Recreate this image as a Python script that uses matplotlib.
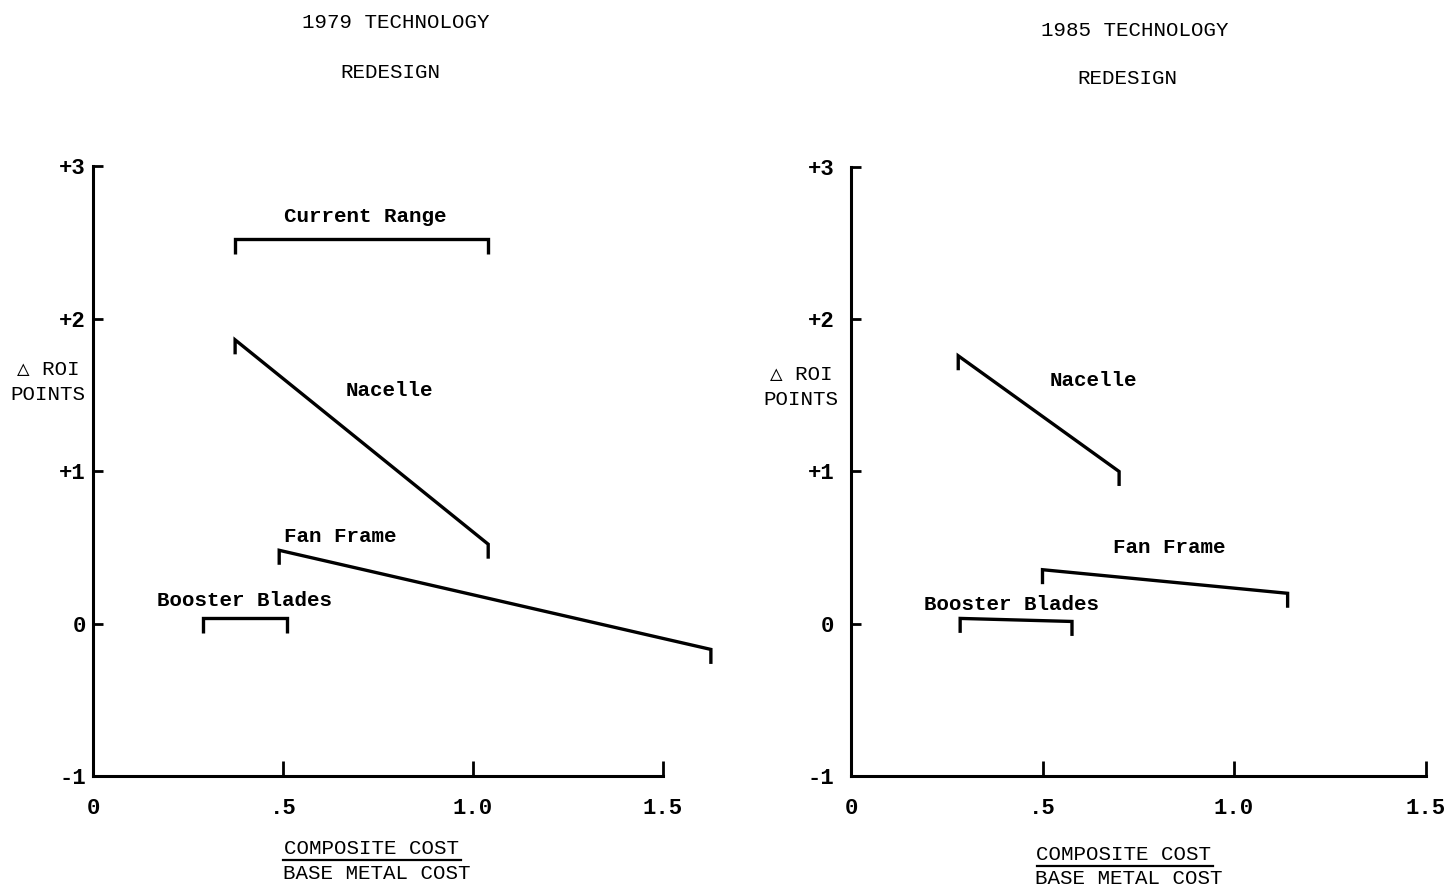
import matplotlib
matplotlib.use("Agg")
import matplotlib.pyplot as plt
from matplotlib.lines import Line2D

# ---------------- data ----------------
panel_titles = ["1979 TECHNOLOGY", "1985 TECHNOLOGY"]
panel_subtitle = "REDESIGN"
y_ticks = [-1, 0, 1, 2, 3]
y_tick_labels = ["-1", "0", "+1", "+2", "+3"]
x_ticks = [0, 0.5, 1.0, 1.5]
x_tick_labels = ["0", ".5", "1.0", "1.5"]
ylabel_text = "\u25b3 ROI\nPOINTS"
xlabel_num = "COMPOSITE COST"
xlabel_den = "BASE METAL COST"

# 1979 technology
p1_current_x = [0.374, 1.04]
p1_current_y = [2.52, 2.52]
p1_nacelle_x = [0.374, 1.04]
p1_nacelle_y = [1.86, 0.52]
p1_fanframe_x = [0.49, 1.626]
p1_fanframe_y = [0.48, -0.17]
p1_booster_x = [0.29, 0.51]
p1_booster_y = [0.035, 0.035]

# 1985 technology
p2_nacelle_x = [0.28, 0.70]
p2_nacelle_y = [1.76, 1.0]
p2_fanframe_x = [0.50, 1.14]
p2_fanframe_y = [0.355, 0.20]
p2_booster_x = [0.285, 0.577]
p2_booster_y = [0.035, 0.015]

W, H = 1455, 888
fig = plt.figure(figsize=(W / 100, H / 100), dpi=100)
fig.patch.set_facecolor("white")

FONT = ["Liberation Mono", "DejaVu Sans Mono"]
FS = 15
TFS = 16
TICK_DROP = 0.095
LW = 2.4


def px(x, y):
    return x / W, 1 - y / H


def axes_rect(x0, y_top, x_right, y_bot):
    return [x0 / W, 1 - y_bot / H, (x_right - x0) / W, (y_bot - y_top) / H]


def bracket_line(ax, xs, ys):
    ax.plot([xs[0], xs[0], xs[1], xs[1]],
            [ys[0] - TICK_DROP, ys[0], ys[1], ys[1] - TICK_DROP],
            color="black", lw=LW, solid_joinstyle="miter", solid_capstyle="butt")


def setup(ax, xmax, ypad):
    ax.set_xlim(0, xmax)
    ax.set_ylim(-1, 3.0)
    for s in ["top", "right"]:
        ax.spines[s].set_visible(False)
    for s in ["left", "bottom"]:
        ax.spines[s].set_linewidth(2.2)
    ax.spines["bottom"].set_bounds(0, 1.5)
    ax.set_yticks(y_ticks)
    ax.set_yticklabels(y_tick_labels, fontfamily=FONT, fontsize=TFS, fontweight="bold")
    ax.set_xticks(x_ticks)
    ax.set_xticklabels(x_tick_labels, fontfamily=FONT, fontsize=TFS, fontweight="bold")
    ax.tick_params(axis="y", direction="in", length=7, width=2, pad=ypad)
    ax.tick_params(axis="x", direction="in", length=11, width=2, pad=16)
    ax.patch.set_alpha(0)


def label(ax, x, y, s):
    ax.text(x, y, s, fontfamily=FONT, fontsize=FS, fontweight="bold",
            ha="center", va="center")


def fig_text(x, y, s, **kw):
    fx, fy = px(x, y)
    fig.text(fx, fy, s, fontfamily=FONT, ha="center", va="center", **kw)


# ---------- left panel ----------
ax1 = fig.add_axes(axes_rect(93, 166, 93 + 1.75 * 380, 776))
setup(ax1, 1.75, 5)
bracket_line(ax1, p1_current_x, p1_current_y)
bracket_line(ax1, p1_nacelle_x, p1_nacelle_y)
bracket_line(ax1, p1_fanframe_x, p1_fanframe_y)
bracket_line(ax1, p1_booster_x, p1_booster_y)
label(ax1, 0.716, 2.67, "Current Range")
label(ax1, 0.78, 1.53, "Nacelle")
label(ax1, 0.65, 0.57, "Fan Frame")
label(ax1, 0.40, 0.15, "Booster Blades")

# ---------- right panel ----------
ax2 = fig.add_axes(axes_rect(851, 167, 851 + 1.55 * 383, 776))
setup(ax2, 1.55, 12)
bracket_line(ax2, p2_nacelle_x, p2_nacelle_y)
bracket_line(ax2, p2_fanframe_x, p2_fanframe_y)
bracket_line(ax2, p2_booster_x, p2_booster_y)
label(ax2, 0.632, 1.60, "Nacelle")
label(ax2, 0.83, 0.50, "Fan Frame")
label(ax2, 0.418, 0.125, "Booster Blades")

# ---------- titles ----------
fig_text(396, 23, panel_titles[0], fontsize=FS)
fig_text(390, 73, panel_subtitle, fontsize=FS)
fig_text(1135, 30, panel_titles[1], fontsize=FS)
fig_text(1127, 78, panel_subtitle, fontsize=FS)

# ---------- y labels ----------
fig_text(48, 382, ylabel_text, fontsize=FS, linespacing=1.35)
fig_text(801, 387, ylabel_text, fontsize=FS, linespacing=1.35)

# ---------- x labels (fraction) ----------
for cx, y_num, y_den, uline in [(372, 848, 873, (283, 461, 860)),
                                 (1124, 854, 878, (1037, 1213, 866))]:
    fig_text(cx, y_num, xlabel_num, fontsize=FS)
    fig_text(cx + 5, y_den, xlabel_den, fontsize=FS)
    xa, ya = px(uline[0], uline[2])
    xb, _ = px(uline[1], uline[2])
    fig.add_artist(Line2D([xa, xb], [ya, ya], color="black", lw=1.6,
                          transform=fig.transFigure))

fig.savefig("out.png", dpi=100, facecolor="white")
